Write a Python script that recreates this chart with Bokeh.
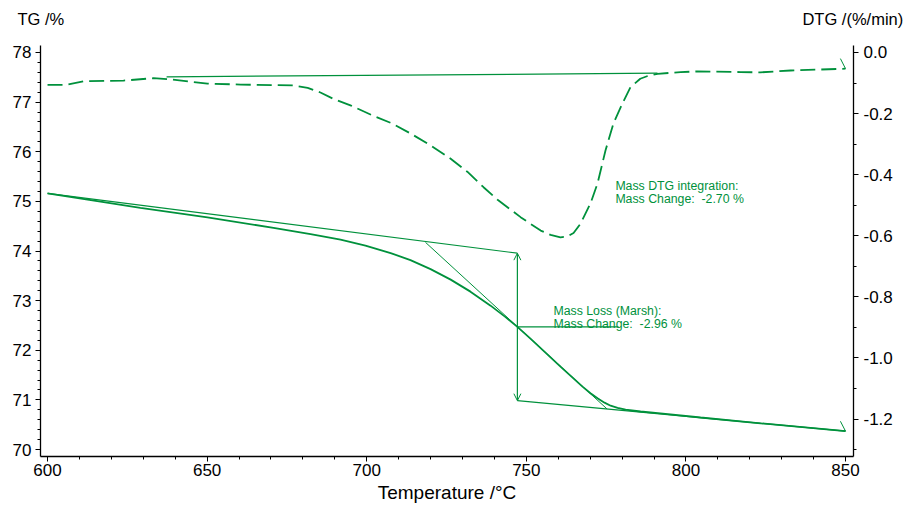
from bokeh.plotting import figure
from bokeh.models import (Range1d, LinearAxis, Label, Arrow, OpenHead, FixedTicker,
                          PrintfTickFormatter)
from bokeh.embed import file_html
from bokeh.resources import INLINE

# ---------------- data ----------------
temperature_tg = [600.0, 616.6, 629.1, 650.1, 670.8, 682.4, 691.8, 699.6, 707.5, 713.7,
                  720.0, 726.3, 732.5, 738.8, 743.5, 747.2, 751.3, 756.0, 760.7, 764.5,
                  767.6, 770.1, 772.3, 774.5, 776.4, 778.6, 781.1, 785.8, 792.0, 804.6,
                  823.4, 850.0]
tg = [75.163, 74.996, 74.869, 74.679, 74.466, 74.341, 74.230, 74.109, 73.958, 73.817,
      73.635, 73.423, 73.181, 72.899, 72.667, 72.470, 72.234, 71.952, 71.669, 71.448,
      71.266, 71.135, 71.034, 70.944, 70.883, 70.839, 70.802, 70.766, 70.726, 70.645,
      70.528, 70.369]

temperature_dtg = [600.0, 605.6, 611.3, 623.8, 633.2, 637.6, 650.1, 660.5, 677.1, 681.5,
                   685.5, 689.6, 694.9, 701.8, 708.1, 713.7, 720.0, 726.3, 731.6, 736.6,
                   741.0, 748.2, 754.5, 757.6, 760.7, 762.9, 764.8, 767.0, 770.1, 772.3,
                   774.8, 777.3, 780.1, 782.6, 785.7, 788.0, 791.1, 798.3, 803.6, 817.1,
                   823.4, 832.8, 850.0]
dtg = [-0.106, -0.106, -0.094, -0.092, -0.084, -0.087, -0.102, -0.105, -0.108, -0.116,
       -0.131, -0.152, -0.173, -0.206, -0.233, -0.265, -0.304, -0.348, -0.391, -0.441,
       -0.482, -0.539, -0.583, -0.597, -0.605, -0.602, -0.591, -0.560, -0.494, -0.429,
       -0.321, -0.232, -0.167, -0.114, -0.086, -0.077, -0.070, -0.064, -0.062, -0.064,
       -0.065, -0.059, -0.053]

# Marsh mass-loss evaluation
onset_tangent_t = [600.0, 747.2]
onset_tangent_tg = [75.163, 73.956]
end_tangent_t = [747.2, 850.0]
end_tangent_tg = [70.984, 70.369]
inflection_tangent_t = [718.4, 775.3]
inflection_tangent_tg = [74.175, 70.816]
inflection_t = 747.2
inflection_tg = 72.470
leader_end_t = 778.9
mass_loss_top = 73.956
mass_loss_bottom = 70.984

# DTG integration baseline
dtg_baseline_t = [637.3, 791.1]
dtg_baseline = [-0.0795, -0.0678]

x_ticks = [600, 650, 700, 750, 800, 850]
tg_ticks = [70, 71, 72, 73, 74, 75, 76, 77, 78]
dtg_ticks = [0.0, -0.2, -0.4, -0.6, -0.8, -1.0, -1.2]

x_title = "Temperature /°C"
tg_title = "TG /%"
dtg_title = "DTG /(%/min)"
title_positions = [597.9, 852.3]
loss_text = ["Mass Loss (Marsh):", "Mass Change:\u00a0 -2.96 %"]
dtg_text = ["Mass DTG integration:", "Mass Change:\u00a0 -2.70 %"]

# ---------------- style ----------------
GREEN = "#00913C"
FONT = "Liberation Sans"

p = figure(width=917, height=506, output_backend="svg", toolbar_location=None,
           x_range=Range1d(597.8, 852.5), y_range=Range1d(69.859, 78.141),
           min_border_left=40, min_border_right=64, min_border_top=45,
           min_border_bottom=50)
p.extra_y_ranges = {"dtg": Range1d(-1.3225, 0.0229)}
p.grid.visible = False
p.outline_line_color = None


def style_axis(ax, ticker, minor):
    ax.ticker = FixedTicker(ticks=ticker, minor_ticks=minor)
    ax.axis_line_color = "black"
    ax.axis_line_width = 1.3
    ax.major_tick_line_color = "black"
    ax.minor_tick_line_color = "black"
    ax.major_tick_out = 5
    ax.major_tick_in = 0
    ax.minor_tick_out = 3
    ax.minor_tick_in = 0
    ax.major_label_text_font = FONT
    ax.major_label_text_font_size = "17px"
    ax.major_label_text_color = "black"


xax = p.xaxis[0]
style_axis(xax, x_ticks, [600 + 10 * i for i in range(26)])
xax.major_label_standoff = 2
xax.axis_label = x_title
xax.axis_label_text_font = FONT
xax.axis_label_text_font_size = "19px"
xax.axis_label_text_font_style = "normal"
xax.axis_label_text_color = "black"
xax.axis_label_standoff = 3

yax = p.yaxis[0]
style_axis(yax, tg_ticks, [70 + 0.2 * i for i in range(41)])
yax.major_label_standoff = 4

rax = LinearAxis(y_range_name="dtg")
style_axis(rax, dtg_ticks, [round(-0.1 * i, 1) for i in range(14)])
rax.formatter = PrintfTickFormatter(format="%.1f")
rax.major_label_standoff = 5
p.add_layout(rax, "right")

# unit titles of both value axes, drawn as labels of an axis above the frame
tax = LinearAxis()
tax.ticker = FixedTicker(ticks=title_positions, minor_ticks=[])
tax.major_label_overrides = {title_positions[0]: tg_title, title_positions[1]: dtg_title}
tax.axis_line_color = None
tax.major_tick_line_color = None
tax.minor_tick_line_color = None
tax.major_tick_out = 0
tax.major_tick_in = 0
tax.major_label_standoff = 18
tax.major_label_text_font = FONT
tax.major_label_text_font_size = "16.5px"
tax.major_label_text_color = "black"
p.add_layout(tax, "above")

# ---------------- curves ----------------
p.line(temperature_dtg, dtg, y_range_name="dtg", line_color=GREEN, line_width=1.8,
       line_dash="15 6")
p.line(dtg_baseline_t, dtg_baseline, y_range_name="dtg", line_color=GREEN, line_width=1.2)

p.line(onset_tangent_t, onset_tangent_tg, line_color=GREEN, line_width=1.2)
p.line(end_tangent_t, end_tangent_tg, line_color=GREEN, line_width=1.2)
p.line(inflection_tangent_t, inflection_tangent_tg, line_color=GREEN, line_width=1.0)
p.line([inflection_t, leader_end_t], [inflection_tg, inflection_tg], line_color=GREEN,
       line_width=1.2)
p.line(temperature_tg, tg, line_color=GREEN, line_width=1.8)

p.add_layout(Arrow(x_start=inflection_t, y_start=mass_loss_top,
                   x_end=inflection_t, y_end=mass_loss_bottom,
                   line_color=GREEN, line_width=1.2,
                   start=OpenHead(size=7, line_color=GREEN, line_width=1.0),
                   end=OpenHead(size=7, line_color=GREEN, line_width=1.0)))

# end-of-curve marks
p.line([temperature_tg[-1] - 1.6, temperature_tg[-1]], [tg[-1] + 0.2, tg[-1]],
       line_color=GREEN, line_width=1.0)
p.line([temperature_dtg[-1] - 1.6, temperature_dtg[-1]], [dtg[-1] + 0.033, dtg[-1]],
       y_range_name="dtg", line_color=GREEN, line_width=1.0)

# ---------------- texts ----------------
for i, t in enumerate(loss_text):
    p.add_layout(Label(x=758.5, y=72.80 - 0.27 * i, text=t, text_font=FONT,
                       text_font_size="12.3px", text_color=GREEN,
                       text_baseline="alphabetic"))
for i, t in enumerate(dtg_text):
    p.add_layout(Label(x=777.9, y=-0.4354 - 0.045 * i, y_range_name="dtg", text=t,
                       text_font=FONT, text_font_size="12.3px", text_color=GREEN,
                       text_baseline="alphabetic"))

open("out.html", "w").write(file_html(p, INLINE))
